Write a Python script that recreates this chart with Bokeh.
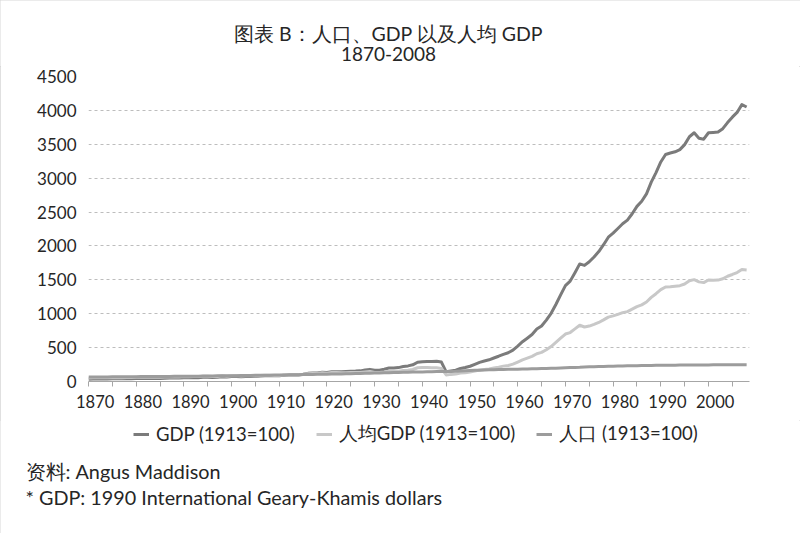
from bokeh.plotting import figure
from bokeh.layouts import column
from bokeh.models import (Range1d, FixedTicker, Label, Legend, LegendItem)
from bokeh.embed import file_html
from bokeh.resources import INLINE

# ---------------- data (index, 1913 = 100) ----------------
years = list(range(1870, 2009))

gdp = [35, 36, 36, 37, 38, 39, 40, 40, 41, 42,
       44, 44, 45, 45, 45, 46, 49, 51, 50, 52,
       57, 54, 58, 57, 63, 64, 60, 61, 70, 66,
       73, 75, 70, 75, 75, 73, 81, 84, 85, 85,
       86, 92, 95, 100, 97, 106, 120, 124, 125, 137,
       132, 145, 145, 144, 148, 153, 154, 157, 170, 179,
       166, 167, 181, 198, 199, 205, 220, 230, 246, 284,
       293, 296, 296, 299, 287, 143, 156, 168, 193, 206,
       225, 253, 282, 303, 320, 347, 373, 401, 424, 463,
       523, 587, 639, 693, 774, 819, 906, 1006, 1136, 1278,
       1415, 1481, 1606, 1735, 1713, 1766, 1837, 1917, 2018, 2129,
       2189, 2258, 2327, 2381, 2475, 2584, 2659, 2769, 2941, 3083,
       3239, 3349, 3371, 3389, 3421, 3495, 3611, 3670, 3590, 3575,
       3670, 3675, 3680, 3730, 3820, 3900, 3970, 4085, 4050]

gdp_per_capita = [52, 54, 54, 54, 56, 57, 58, 57, 59, 59,
                  62, 61, 62, 62, 61, 62, 65, 68, 66, 68,
                  73, 69, 73, 72, 79, 79, 73, 73, 84, 79,
                  86, 87, 80, 84, 83, 80, 89, 91, 91, 89,
                  90, 95, 96, 100, 96, 103, 115, 118, 118, 128,
                  122, 133, 131, 129, 130, 133, 132, 132, 140, 147,
                  134, 133, 141, 152, 151, 153, 162, 167, 177, 203,
                  208, 207, 204, 203, 193, 97, 105, 111, 125, 130,
                  139, 153, 169, 178, 186, 199, 212, 227, 237, 256,
                  287, 319, 345, 371, 410, 429, 469, 516, 577, 639,
                  700, 722, 776, 830, 804, 818, 843, 871, 909, 950,
                  969, 990, 1016, 1031, 1067, 1104, 1131, 1173, 1241, 1295,
                  1355, 1395, 1399, 1406, 1414, 1438, 1486, 1503, 1470, 1459,
                  1497, 1494, 1496, 1516, 1553, 1579, 1607, 1652, 1646]

population = [67, 67, 67, 68, 68, 69, 69, 70, 70, 71,
              71, 72, 72, 73, 74, 74, 75, 75, 76, 77,
              78, 78, 79, 79, 80, 81, 82, 83, 83, 84,
              85, 86, 88, 89, 90, 91, 91, 92, 93, 95,
              96, 97, 99, 100, 101, 103, 104, 105, 106, 107,
              108, 109, 111, 112, 114, 115, 117, 119, 121, 122,
              124, 126, 128, 130, 132, 134, 136, 138, 139, 140,
              141, 143, 145, 147, 149, 148, 149, 151, 155, 159,
              162, 165, 167, 170, 172, 174, 176, 177, 179, 181,
              182, 184, 185, 187, 189, 191, 193, 195, 197, 200,
              202, 205, 207, 209, 213, 216, 218, 220, 222, 224,
              226, 228, 229, 231, 232, 234, 235, 236, 237, 238,
              239, 240, 241, 241, 242, 243, 243, 244, 244, 245,
              245, 246, 246, 246, 246, 247, 247, 247, 246]

series_names = ["GDP (1913=100)", "人均GDP (1913=100)", "人口 (1913=100)"]
series_colors = ["#7b7b7b", "#c8c8c8", "#9c9c9c"]

y_ticks = [0, 500, 1000, 1500, 2000, 2500, 3000, 3500, 4000, 4500]
x_label_years = [1870, 1880, 1890, 1900, 1910, 1920, 1930, 1940, 1950,
                 1960, 1970, 1980, 1990, 2000]
x_tick_labels = ["1870", "1880", "1890", "1900", "1910", "1920", "1930",
                 "1940", "1950", "1960", "1970", "1980", "1990", "2000"]
x_minor_years = list(range(1870, 2006, 5))

title_line1 = "图表 B：人口、GDP 以及人均 GDP"
title_line2 = "1870-2008"
source_line = "资料: Angus Maddison"
note_line = "* GDP: 1990 International Geary-Khamis dollars"

FONT = "Lato"
TXT = "#262626"
W = 800
series = [gdp, gdp_per_capita, population]


def blank_fig(h):
    f = figure(width=W, height=h, output_backend="svg", toolbar_location=None,
               x_range=Range1d(0, W), y_range=Range1d(0, h),
               x_axis_type=None, y_axis_type=None, frame_align=False,
               min_border=0, min_border_left=0, min_border_right=0,
               min_border_top=0, min_border_bottom=0)
    f.outline_line_color = None
    f.background_fill_color = "white"
    f.border_fill_color = "white"
    f.grid.visible = False
    return f


def add_text(f, txt, x, y, size, align):
    f.add_layout(Label(x=x, y=y, x_units="screen", y_units="screen", text=txt,
                       text_font=FONT, text_font_size=size, text_color=TXT,
                       text_align=align, text_baseline="middle"))


# ---------------- title strip ----------------
top = blank_fig(66)
add_text(top, title_line1, 388, 33, "19.5px", "center")
add_text(top, title_line2, 388, 13, "19px", "center")

# ---------------- main chart ----------------
p = figure(width=W, height=354, output_backend="svg", toolbar_location=None,
           x_range=Range1d(1870, 2008.6), y_range=Range1d(0, 4500),
           frame_align=False,
           min_border_left=88, min_border_right=51, min_border_top=10,
           min_border_bottom=39)
p.outline_line_color = None
p.background_fill_color = "white"
p.border_fill_color = "white"

label_shift = 1.4
label_pos = [y + label_shift for y in x_label_years]
p.xaxis.ticker = FixedTicker(ticks=label_pos, minor_ticks=x_minor_years)
p.xaxis.major_label_overrides = {pos: lab for pos, lab in zip(label_pos, x_tick_labels)}
p.xaxis.axis_line_color = "#a6a6a6"
p.xaxis.axis_line_width = 1
p.xaxis.major_tick_out = 0
p.xaxis.major_tick_in = 0
p.xaxis.minor_tick_out = 5
p.xaxis.minor_tick_in = 0
p.xaxis.minor_tick_line_color = "#a6a6a6"
p.xaxis.major_label_standoff = 8
p.xaxis.major_label_text_font = FONT
p.xaxis.major_label_text_font_size = "16.5px"
p.xaxis.major_label_text_color = TXT

p.yaxis.ticker = FixedTicker(ticks=y_ticks)
p.yaxis.axis_line_color = None
p.yaxis.major_tick_line_color = None
p.yaxis.minor_tick_line_color = None
p.yaxis.major_tick_out = 0
p.yaxis.major_label_standoff = 12
p.yaxis.major_label_text_font = FONT
p.yaxis.major_label_text_font_size = "17px"
p.yaxis.major_label_text_color = TXT

p.xgrid.grid_line_color = None
p.ygrid.ticker = FixedTicker(ticks=y_ticks[1:])
p.ygrid.grid_line_color = "#bdbdbd"
p.ygrid.grid_line_dash = "3 3"
p.ygrid.grid_line_width = 1

for vals, col in zip(series, series_colors):
    p.line(years, vals, line_color=col, line_width=3, line_join="round")

# ---------------- legend + notes strip ----------------
bot = blank_fig(113)
# legend keys: the same series, which fall outside this strip's visible range
keys = [bot.line(years, vals, line_color=c, line_width=3)
        for vals, c in zip(series, series_colors)]
legend = Legend(items=[LegendItem(label=n, renderers=[r])
                       for n, r in zip(series_names, keys)],
                location=(133, 87), orientation="horizontal",
                label_text_font=FONT, label_text_font_size="18.5px",
                label_text_color=TXT, glyph_width=16, glyph_height=20,
                label_height=20, label_standoff=7, spacing=21, padding=0,
                margin=0, border_line_color=None, background_fill_alpha=0)
bot.add_layout(legend, "center")
add_text(bot, source_line, 25, 63, "19.8px", "left")
add_text(bot, note_line, 25, 37, "19.8px", "left")

layout = column(top, p, bot, spacing=0,
                styles={"outline": "1px solid #d6d6d6", "outline-offset": "-1px"})
open("out.html", "w").write(file_html(layout, INLINE))
